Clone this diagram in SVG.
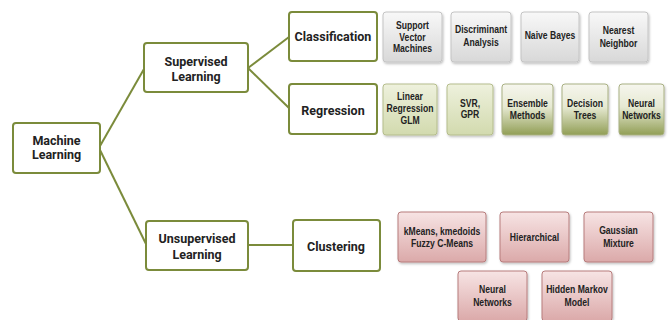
<svg xmlns="http://www.w3.org/2000/svg" width="671" height="320" viewBox="0 0 671 320">
<defs>
<linearGradient id="gGray" x1="0" y1="0" x2="0" y2="1"><stop offset="0" stop-color="#f8f8f8"/><stop offset="1" stop-color="#d8d8d8"/></linearGradient>
<linearGradient id="gLight" x1="0" y1="0" x2="0" y2="1"><stop offset="0" stop-color="#eef1dd"/><stop offset="1" stop-color="#d2daae"/></linearGradient>
<linearGradient id="gOlive" x1="0" y1="0" x2="0" y2="1"><stop offset="0" stop-color="#f6f6ee"/><stop offset="0.45" stop-color="#e6e9d2"/><stop offset="1" stop-color="#919e55"/></linearGradient>
<linearGradient id="gPink" x1="0" y1="0" x2="0" y2="1"><stop offset="0" stop-color="#f7e4e4"/><stop offset="1" stop-color="#dba9a9"/></linearGradient>
<filter id="sh" x="-10%" y="-10%" width="130%" height="130%"><feDropShadow dx="1" dy="1.5" stdDeviation="1.2" flood-color="#000" flood-opacity="0.25"/></filter>
</defs>
<style>
.main rect{fill:#fff;stroke:#7b8b3b;stroke-width:2}
.main text{font-family:Roboto,"Liberation Sans",sans-serif;font-weight:bold;font-size:12.5px;fill:#222;text-anchor:middle}
.leaf text{font-family:"Liberation Sans",Arial,sans-serif;font-weight:bold;font-size:10.5px;fill:#222;text-anchor:middle}
.leaf rect{filter:url(#sh);stroke-width:1}
.gray rect{fill:url(#gGray);stroke:#c4c4c4}
.light rect{fill:url(#gLight);stroke:#b5bd8c}
.olive rect{fill:url(#gOlive);stroke:#a9b083}
.pink rect{fill:url(#gPink);stroke:#b77c7c}
.conn line{stroke:#7b8b3b;stroke-width:2}
</style>
<rect width="671" height="320" fill="#fff"/>
<g class="conn" id="connectors">
<line x1="100" y1="146" x2="144" y2="69"/>
<line x1="100" y1="150" x2="146" y2="244"/>
<line x1="248" y1="68" x2="289" y2="37"/>
<line x1="248" y1="68" x2="289" y2="108"/>
<line x1="248" y1="245" x2="293" y2="245"/>
</g>
<g class="main" id="machine-learning"><rect x="13" y="123" width="87" height="50" rx="3"/><text x="56.5" y="145">Machine</text><text x="56.5" y="159">Learning</text></g>
<g class="main" id="supervised"><rect x="144" y="43" width="104" height="49" rx="3"/><text x="196" y="65.5">Supervised</text><text x="196" y="80.5">Learning</text></g>
<g class="main" id="unsupervised"><rect x="146" y="221" width="102" height="49" rx="3"/><text x="197" y="242.5">Unsupervised</text><text x="197" y="258.5">Learning</text></g>
<g class="main" id="classification"><rect x="289" y="12" width="88" height="49" rx="3"/><text x="333" y="40.5">Classification</text></g>
<g class="main" id="regression"><rect x="289" y="84" width="88" height="50" rx="3"/><text x="333" y="114.5">Regression</text></g>
<g class="main" id="clustering"><rect x="293" y="220" width="87" height="51" rx="3"/><text x="336" y="250.5">Clustering</text></g>

<g class="leaf gray" id="svm"><rect x="383" y="12" width="59" height="50" rx="3"/><g transform="translate(412.5,0) scale(0.82,1)"><text x="0" y="29.5">Support</text><text x="0" y="41">Vector</text><text x="0" y="52.5">Machines</text></g></g>
<g class="leaf gray" id="discriminant"><rect x="451" y="12" width="60" height="50" rx="3"/><g transform="translate(481,0) scale(0.82,1)"><text x="0" y="33">Discriminant</text><text x="0" y="46">Analysis</text></g></g>
<g class="leaf gray" id="naive-bayes"><rect x="521" y="12" width="58" height="50" rx="3"/><g transform="translate(550,0) scale(0.82,1)"><text x="0" y="39.5">Naive Bayes</text></g></g>
<g class="leaf gray" id="nearest"><rect x="589" y="12" width="59" height="50" rx="3"/><g transform="translate(618.5,0) scale(0.82,1)"><text x="0" y="34.5">Nearest</text><text x="0" y="47">Neighbor</text></g></g>

<g class="leaf light" id="linear"><rect x="383" y="84" width="54" height="51" rx="3"/><g transform="translate(410,0) scale(0.82,1)"><text x="0" y="100">Linear</text><text x="0" y="112.5">Regression</text><text x="0" y="124.5">GLM</text></g></g>
<g class="leaf light" id="svr"><rect x="447" y="84" width="46" height="51" rx="3"/><g transform="translate(470,0) scale(0.82,1)"><text x="0" y="107.5">SVR,</text><text x="0" y="118.5">GPR</text></g></g>
<g class="leaf olive" id="ensemble"><rect x="502" y="84" width="51" height="51" rx="3"/><g transform="translate(527.5,0) scale(0.82,1)"><text x="0" y="107">Ensemble</text><text x="0" y="119">Methods</text></g></g>
<g class="leaf olive" id="decision"><rect x="562" y="84" width="46" height="51" rx="3"/><g transform="translate(585,0) scale(0.82,1)"><text x="0" y="107">Decision</text><text x="0" y="119">Trees</text></g></g>
<g class="leaf olive" id="neural-reg"><rect x="619" y="84" width="45" height="51" rx="3"/><g transform="translate(641.5,0) scale(0.82,1)"><text x="0" y="107">Neural</text><text x="0" y="119">Networks</text></g></g>

<g class="leaf pink" id="kmeans"><rect x="398" y="212" width="88" height="50" rx="3"/><g transform="translate(442,0) scale(0.82,1)"><text x="0" y="235.5">kMeans, kmedoids</text><text x="0" y="247">Fuzzy C-Means</text></g></g>
<g class="leaf pink" id="hierarchical"><rect x="500" y="212" width="69" height="50" rx="3"/><g transform="translate(534.5,0) scale(0.82,1)"><text x="0" y="241">Hierarchical</text></g></g>
<g class="leaf pink" id="gaussian"><rect x="584" y="212" width="69" height="50" rx="3"/><g transform="translate(618.5,0) scale(0.82,1)"><text x="0" y="234.5">Gaussian</text><text x="0" y="247">Mixture</text></g></g>
<g class="leaf pink" id="neural-clu"><rect x="458" y="271" width="69" height="50" rx="3"/><g transform="translate(492.5,0) scale(0.82,1)"><text x="0" y="293.5">Neural</text><text x="0" y="306">Networks</text></g></g>
<g class="leaf pink" id="hmm"><rect x="542" y="271" width="70" height="50" rx="3"/><g transform="translate(577,0) scale(0.82,1)"><text x="0" y="293.5">Hidden Markov</text><text x="0" y="306">Model</text></g></g>
</svg>
